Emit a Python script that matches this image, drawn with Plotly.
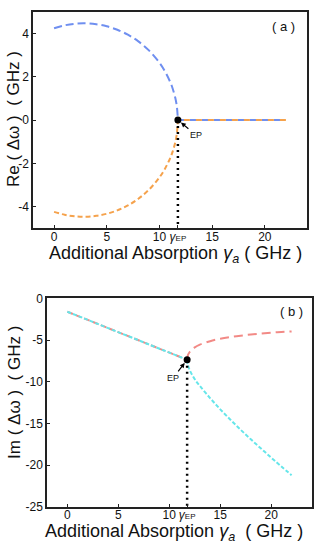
import plotly.graph_objects as go

# ---------------- data ----------------
gamma_ep = 11.75
# panel (a): real parts, below EP
gamma_a_pre = [0, 1, 2, 3, 4, 5, 6, 7, 8, 9, 10, 10.5, 11, 11.25, 11.5, 11.65, 11.75]
re_upper = [4.245, 4.378, 4.452, 4.469, 4.429, 4.332, 4.174, 3.946, 3.636, 3.220,
            2.650, 2.271, 1.780, 1.459, 1.030, 0.632, 0.0]
re_lower = [-v for v in re_upper]
# above EP both real parts coincide
gamma_a_post = [11.75, 22]
re_post = [0.0, 0.0]

# panel (b): imaginary parts
gamma_b_pre = [0, 5, 10, 11.75]
im_pre = [-1.6, -4.05, -6.5, -7.36]
gamma_b_post = [11.75, 11.8, 12, 12.5, 13, 14, 15, 16, 17, 18, 19, 20, 21, 22]
im_red_post = [-7.36, -6.91, -6.43, -5.88, -5.55, -5.13, -4.84, -4.63, -4.47, -4.33,
               -4.21, -4.11, -4.03, -3.97]
im_cyan_post = [-7.36, -7.85, -8.6, -9.7, -10.5, -11.95, -13.3, -14.55, -15.75, -16.9,
                -18.0, -19.1, -20.15, -21.2]

x_tickvals = [0, 5, 10, gamma_ep, 15, 20]
x_ticktext = ["0", "5", "10", "<i>γ</i><span style='font-size:8px'>EP</span>", "15", "20"]
ya_tickvals = [4, 2, 0, -2, -4]
ya_ticktext = ["4", "2", "0", "-2", "-4"]
yb_tickvals = [0, -5, -10, -15, -20, -25]
yb_ticktext = ["0", "-5", "-10", "-15", "-20", "-25"]

# ---------------- styles ----------------
BLUE = "#6f8ff0"
ORANGE = "#f5a24c"
RED = "#f28a86"
CYAN = "#66e6ea"
FONT = "Arial, Liberation Sans, sans-serif"

fig = go.Figure()

# panel (a)
fig.add_trace(go.Scatter(x=gamma_a_pre, y=re_upper, mode="lines", line_shape="spline",
                         line=dict(color=BLUE, width=2, dash="8px,4px"),
                         xaxis="x", yaxis="y", showlegend=False))
fig.add_trace(go.Scatter(x=gamma_a_pre, y=re_lower, mode="lines", line_shape="spline",
                         line=dict(color=ORANGE, width=2, dash="5px,3px"),
                         xaxis="x", yaxis="y", showlegend=False))
fig.add_trace(go.Scatter(x=gamma_a_post, y=re_post, mode="lines",
                         line=dict(color=BLUE, width=2, dash="8px,4px"),
                         xaxis="x", yaxis="y", showlegend=False))
fig.add_trace(go.Scatter(x=gamma_a_post, y=re_post, mode="lines",
                         line=dict(color=ORANGE, width=2, dash="0px,6px,6px,0px"),
                         xaxis="x", yaxis="y", showlegend=False))
fig.add_trace(go.Scatter(x=[gamma_ep, gamma_ep], y=[0, -5], mode="lines",
                         line=dict(color="black", width=2.5, dash="2px,4px"),
                         xaxis="x", yaxis="y", showlegend=False))
fig.add_trace(go.Scatter(x=[gamma_ep], y=[0], mode="markers",
                         marker=dict(color="black", size=7),
                         xaxis="x", yaxis="y", showlegend=False))

# panel (b)
fig.add_trace(go.Scatter(x=gamma_b_pre, y=im_pre, mode="lines",
                         line=dict(color=RED, width=2, dash="6px,3px"),
                         xaxis="x2", yaxis="y2", showlegend=False))
fig.add_trace(go.Scatter(x=gamma_b_pre, y=im_pre, mode="lines",
                         line=dict(color=CYAN, width=2, dash="4px,2px"),
                         xaxis="x2", yaxis="y2", showlegend=False))
fig.add_trace(go.Scatter(x=gamma_b_post, y=im_red_post, mode="lines", line_shape="spline",
                         line=dict(color=RED, width=2, dash="9px,5px"),
                         xaxis="x2", yaxis="y2", showlegend=False))
fig.add_trace(go.Scatter(x=gamma_b_post, y=im_cyan_post, mode="lines", line_shape="spline",
                         line=dict(color=CYAN, width=2, dash="4px,2px"),
                         xaxis="x2", yaxis="y2", showlegend=False))
fig.add_trace(go.Scatter(x=[gamma_ep, gamma_ep], y=[im_pre[-1], -25], mode="lines",
                         line=dict(color="black", width=2.5, dash="2px,4px"),
                         xaxis="x2", yaxis="y2", showlegend=False))
fig.add_trace(go.Scatter(x=[gamma_ep], y=[im_pre[-1]], mode="markers",
                         marker=dict(color="black", size=7),
                         xaxis="x2", yaxis="y2", showlegend=False))

axis_common = dict(showline=True, linecolor="#222", linewidth=1.5, mirror=True,
                   ticks="inside", ticklen=3, tickcolor="#222", showgrid=False,
                   zeroline=False, tickfont=dict(family=FONT, size=12, color="#111"))

fig.update_layout(
    width=319, height=550,
    margin=dict(l=0, r=0, t=0, b=0),
    paper_bgcolor="white", plot_bgcolor="white",
    font=dict(family=FONT, color="#111"),
    xaxis=dict(domain=[0.1034, 0.9624], range=[-2, 24], anchor="y", ticklabelstandoff=-3,
               tickvals=x_tickvals, ticktext=x_ticktext, **axis_common),
    yaxis=dict(domain=[0.5873, 0.9909], range=[-5, 5], anchor="x",
               tickvals=ya_tickvals, ticktext=ya_ticktext, **axis_common),
    xaxis2=dict(domain=[0.1473, 0.978], range=[-2, 24], anchor="y2", ticklabelstandoff=-4,
                tickvals=x_tickvals, ticktext=x_ticktext, **axis_common),
    yaxis2=dict(domain=[0.0673, 0.4564], range=[-25, 0], anchor="x2",
                tickvals=yb_tickvals, ticktext=yb_ticktext, **axis_common),
)

title_font = dict(family=FONT, size=18, color="#111")
annotations = [
    dict(text="Additional Absorption <i>γ<sub>a</sub></i> ( GHz )", x=0.549, y=1 - 254 / 550,
         xref="paper", yref="paper", showarrow=False, font=title_font,
         xanchor="center", yanchor="middle"),
    dict(text="Additional Absorption <i>γ<sub>a</sub></i>  ( GHz )", x=0.545, y=1 - 539 / 550,
         xref="paper", yref="paper", showarrow=False, font=title_font,
         xanchor="center", yanchor="middle"),
    dict(text="Re ( Δω )  ( GHz )", x=13 / 319, y=1 - 115 / 550, textangle=-90,
         xref="paper", yref="paper", showarrow=False, font=dict(family=FONT, size=17, color="#111"),
         xanchor="center", yanchor="middle"),
    dict(text="Im ( Δω )  ( GHz )", x=15 / 319, y=1 - 396 / 550, textangle=-90,
         xref="paper", yref="paper", showarrow=False, font=dict(family=FONT, size=17, color="#111"),
         xanchor="center", yanchor="middle"),
    dict(text="( a )", x=283 / 319, y=1 - 20 / 550, xref="paper", yref="paper",
         showarrow=False, font=dict(family=FONT, size=13, color="#111"),
         xanchor="center", yanchor="middle"),
    dict(text="( b )", x=291 / 319, y=1 - 312 / 550, xref="paper", yref="paper",
         showarrow=False, font=dict(family=FONT, size=13, color="#111"),
         xanchor="center", yanchor="middle"),
    dict(text="EP", x=gamma_ep, y=0, xref="x", yref="y", showarrow=True,
         ax=18, ay=15, arrowhead=2, arrowsize=0.8, arrowwidth=1.2, arrowcolor="black",
         standoff=4, font=dict(family=FONT, size=9, color="#111")),
    dict(text="EP", x=gamma_ep, y=im_pre[-1], xref="x2", yref="y2", showarrow=True,
         ax=-14, ay=18, arrowhead=2, arrowsize=0.8, arrowwidth=1.2, arrowcolor="black",
         standoff=4, font=dict(family=FONT, size=9, color="#111")),
]
fig.update_layout(annotations=annotations)

fig.write_html("out.html", config={"displayModeBar": False},
               post_script="document.body.style.margin='0';document.body.style.overflow='hidden';")
